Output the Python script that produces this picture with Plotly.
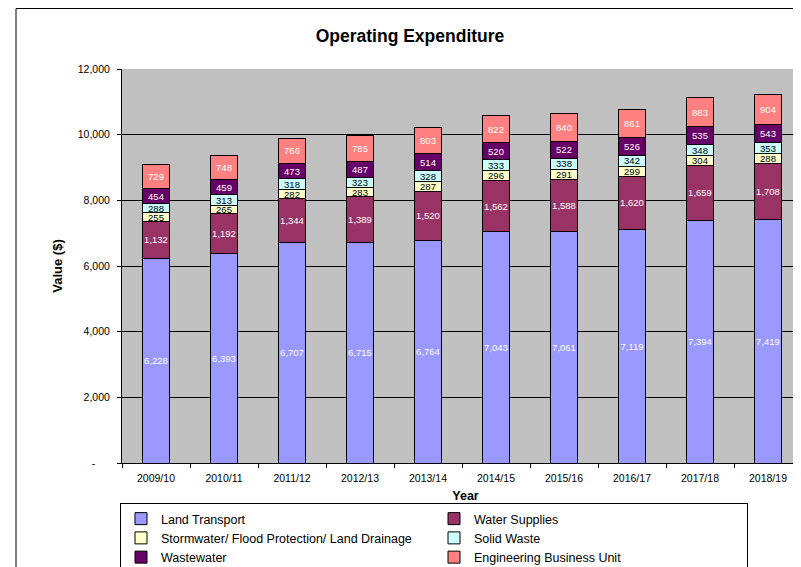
import plotly.graph_objects as go

years = ["2009/10", "2010/11", "2011/12", "2012/13", "2013/14",
         "2014/15", "2015/16", "2016/17", "2017/18", "2018/19"]
land_transport = [6228, 6393, 6707, 6715, 6764, 7043, 7061, 7119, 7394, 7419]
water_supplies = [1132, 1192, 1344, 1389, 1520, 1562, 1588, 1620, 1659, 1708]
stormwater = [255, 265, 282, 283, 287, 296, 291, 299, 304, 288]
solid_waste = [288, 313, 318, 323, 328, 333, 338, 342, 348, 353]
wastewater = [454, 459, 473, 487, 514, 520, 522, 526, 535, 543]
engineering_bu = [729, 748, 766, 785, 803, 822, 840, 861, 883, 904]

y_ticks = [0, 2000, 4000, 6000, 8000, 10000, 12000]
y_ticktext = ["-\u00a0\u00a0\u00a0\u00a0\u00a0", "2,000", "4,000", "6,000", "8,000", "10,000", "12,000"]

FONT = "Liberation Sans, Arial, sans-serif"

series = [
    ("Land Transport", land_transport, "#9999FF", "#FFFFFF"),
    ("Water Supplies", water_supplies, "#993366", "#FFFFFF"),
    ("Stormwater/ Flood Protection/ Land Drainage", stormwater, "#FFFFCC", "#000000"),
    ("Solid Waste", solid_waste, "#CCFFFF", "#000000"),
    ("Wastewater", wastewater, "#660066", "#FFFFFF"),
    ("Engineering Business Unit", engineering_bu, "#FF8080", "#FFFFFF"),
]

fig = go.Figure()
for name, vals, color, tcolor in series:
    fig.add_trace(go.Bar(
        name=name, x=years, y=vals,
        marker=dict(color=color, line=dict(color="#000000", width=1)),
        texttemplate="%{y:,}", textposition="inside", insidetextanchor="middle",
        textangle=0, textfont=dict(family=FONT, size=9.5, color=tcolor),
        width=0.4,
    ))

# page body adds an 8px offset; figure coordinates = screen coordinates - OFF
OFF = 8
W, H = 801, 567
L = 122 - OFF          # plot left (screen 122)
T = 69 - OFF           # plot top  (screen 69)
B = H - (463 - OFF)    # plot bottom (screen 463)
plot_w = W - L
plot_h = H - T - B
cat_px = 68.0

fig.update_layout(
    width=W, height=H,
    barmode="stack",
    margin=dict(l=L, r=0, t=T, b=B, autoexpand=False),
    paper_bgcolor="#FFFFFF",
    plot_bgcolor="#C0C0C0",
    font=dict(family=FONT, color="#000000"),
    title=dict(text="Operating Expenditure", x=(410 - OFF) / W, xref="container", xanchor="center",
               y=1 - (36 - OFF) / H, yref="container", yanchor="middle",
               font=dict(family=FONT, size=17.5, weight="bold", color="#000000")),
    uniformtext=dict(minsize=9.5, mode="show"),
    showlegend=True,
    legend=dict(
        orientation="h", x=(120 - OFF) / W, xref="container", xanchor="left",
        y=1 - (503 - OFF) / H, yref="container", yanchor="top",
        bgcolor="#FFFFFF", bordercolor="#000000", borderwidth=1,
        font=dict(family=FONT, size=12.5, color="#000000"),
        entrywidth=268, entrywidthmode="pixels", itemwidth=30,
        traceorder="normal",
    ),
    xaxis=dict(
        type="category", range=[-0.5, -0.5 + plot_w / cat_px],
        automargin=False,
        showline=True, linecolor="#000000", linewidth=1,
        ticks="outside", tickson="boundaries", ticklen=4, tickcolor="#000000",
        ticklabelstandoff=5,
        tickfont=dict(family=FONT, size=10.5, color="#000000"),
        showgrid=False, zeroline=False,
        title=dict(text="Year", standoff=13,
                   font=dict(family=FONT, size=12.5, weight="bold", color="#000000")),
    ),
    yaxis=dict(
        range=[0, 12000], tickvals=y_ticks, ticktext=y_ticktext,
        automargin=False,
        showline=True, linecolor="#000000", linewidth=1,
        ticks="outside", ticklen=4, tickcolor="#000000",
        ticklabelstandoff=5,
        tickfont=dict(family=FONT, size=10.5, color="#000000"),
        showgrid=True, gridcolor="#000000", gridwidth=1, zeroline=False,
        title=dict(text="Value ($)", standoff=12,
                   font=dict(family=FONT, size=13, weight="bold", color="#000000")),
    ),
)

# outer chart-area border (extends beyond the cropped canvas on right/bottom)
fig.add_shape(type="rect", xref="paper", yref="paper",
              x0=(16 - OFF - L) / plot_w, x1=1.2, y0=-0.5, y1=(plot_h + T - 0.5) / plot_h,
              line=dict(color="#000000", width=1), fillcolor="rgba(0,0,0,0)", layer="below")

fig.write_html("out.html")
